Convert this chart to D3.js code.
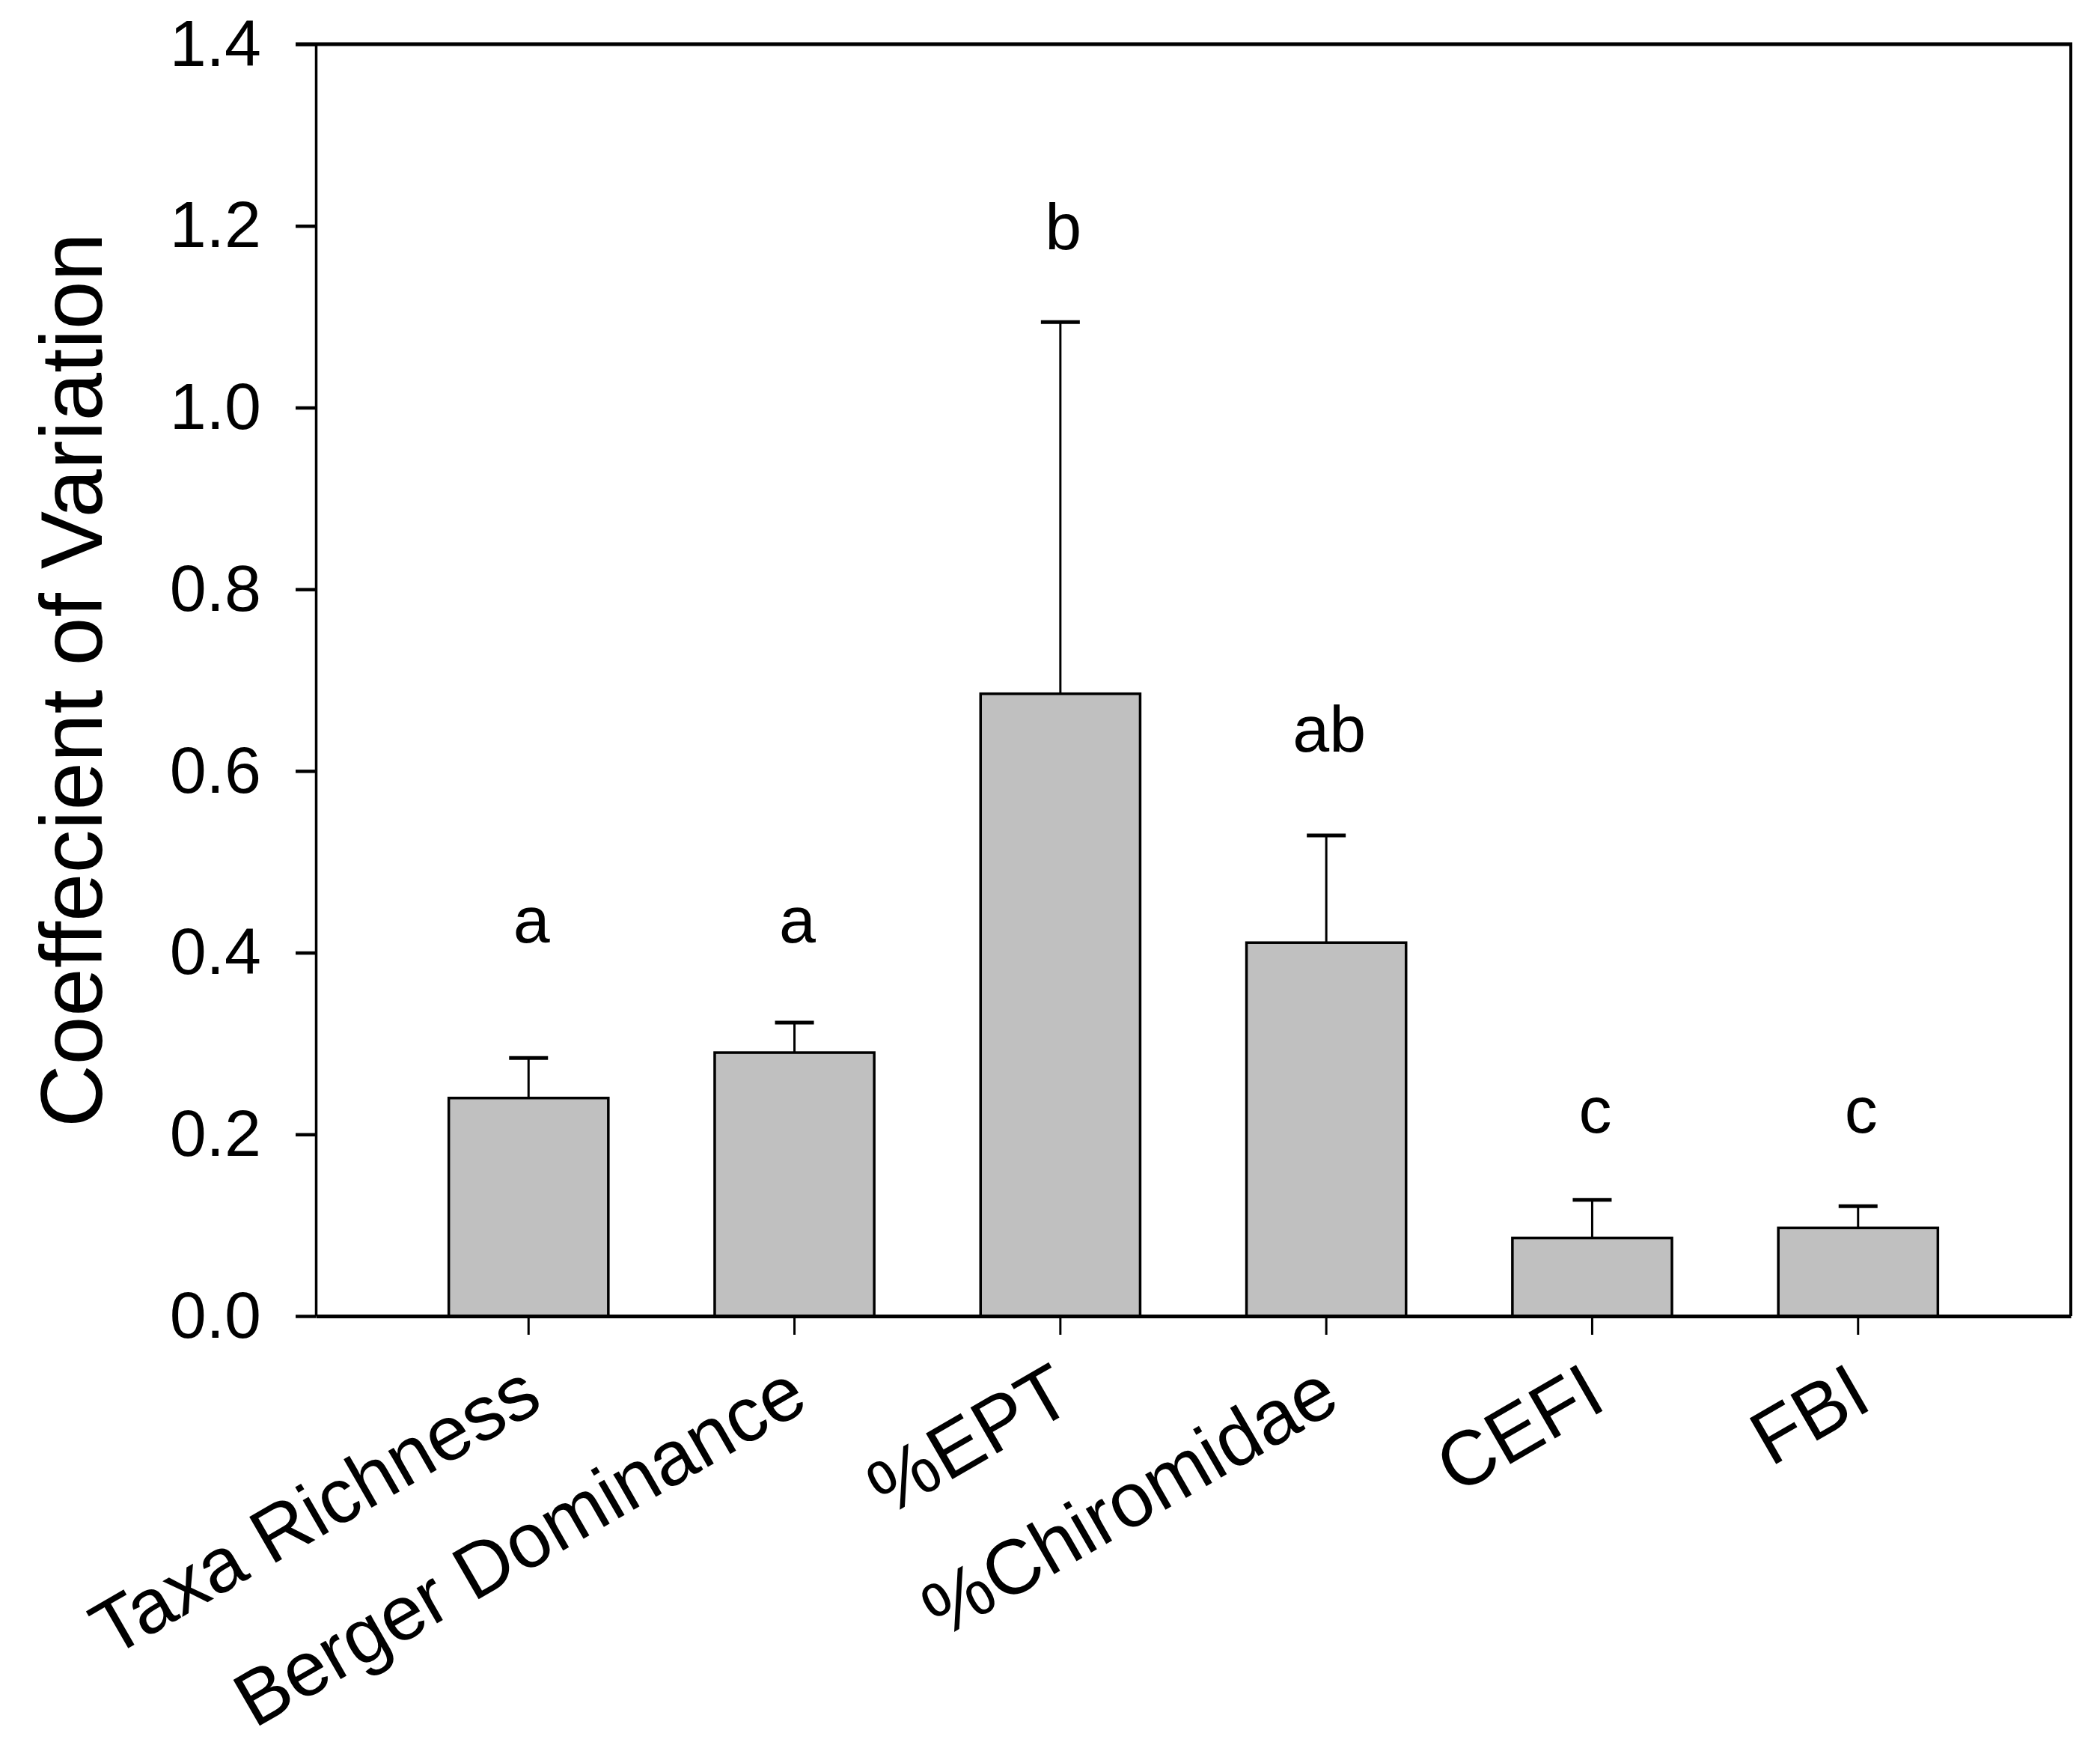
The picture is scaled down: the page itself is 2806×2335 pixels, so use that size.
<!DOCTYPE html>
<html>
<head>
<meta charset="utf-8">
<script src="https://cdn.jsdelivr.net/npm/d3@7"></script>
<style>
  body { margin: 0; background: #fff; }
  text { font-family: "Liberation Sans", Arial, sans-serif; fill: #000; }
</style>
</head>
<body>
<div id="chart"></div>
<script>
// values
let categories = ['Taxa Richness', 'Berger Dominance', '%EPT', '%Chiromidae', 'CEFI', 'FBI'];
let cvMeans = [0.240, 0.290, 0.685, 0.411, 0.086, 0.097];
let cvErrors = [0.044, 0.033, 0.409, 0.118, 0.042, 0.024];
let groupLetters = ['a', 'a', 'b', 'ab', 'c', 'c'];
let letterLevels = [0.411, 0.411, 1.174, 0.621, 0.202, 0.202];
let yTicks = [0, 0.2, 0.4, 0.6, 0.8, 1.0, 1.2, 1.4];

//svg size
let svgWidth = 2806;
let svgHeight = 2335;

let chartMargin = {
    top: 59,
    right: 39,
    bottom: 577,
    left: 422
};

let chartWidth = svgWidth - chartMargin.left - chartMargin.right;
let chartHeight = svgHeight - chartMargin.top - chartMargin.bottom;

let svg = d3.select('#chart')
            .append('svg')
            .attr('width', svgWidth)
            .attr('height', svgHeight);

let chartGroup = svg.append('g')
                    .attr('transform', `translate(${chartMargin.left}, ${chartMargin.top})`);

let data = categories.map((c, i) => ({
    name: c,
    mean: cvMeans[i],
    err: cvErrors[i],
    letter: groupLetters[i],
    level: letterLevels[i]
}));

//scales
let xScale = d3.scaleBand()
               .domain(categories)
               .range([0, chartWidth])
               .paddingInner(0.4)
               .paddingOuter(0.5);

let yScale = d3.scaleLinear()
               .domain([0, 1.4])
               .range([chartHeight, 0]);

//bars
chartGroup.selectAll('.bar')
          .data(data)
          .enter()
          .append('rect')
          .attr('class', 'bar')
          .attr('x', d => xScale(d.name))
          .attr('width', xScale.bandwidth())
          .attr('y', d => yScale(d.mean))
          .attr('height', d => yScale(0) - yScale(d.mean))
          .attr('fill', '#c0c0c0')
          .attr('stroke', '#000')
          .attr('stroke-width', 3.5);

//error bars (upper only)
let capHalf = 26;
chartGroup.selectAll('.errLine')
          .data(data)
          .enter()
          .append('line')
          .attr('x1', d => xScale(d.name) + xScale.bandwidth() / 2)
          .attr('x2', d => xScale(d.name) + xScale.bandwidth() / 2)
          .attr('y1', d => yScale(d.mean))
          .attr('y2', d => yScale(d.mean + d.err))
          .attr('stroke', '#000')
          .attr('stroke-width', 3);

chartGroup.selectAll('.errCap')
          .data(data)
          .enter()
          .append('line')
          .attr('x1', d => xScale(d.name) + xScale.bandwidth() / 2 - capHalf)
          .attr('x2', d => xScale(d.name) + xScale.bandwidth() / 2 + capHalf)
          .attr('y1', d => yScale(d.mean + d.err))
          .attr('y2', d => yScale(d.mean + d.err))
          .attr('stroke', '#000')
          .attr('stroke-width', 5);

//significance letters
chartGroup.selectAll('.letter')
          .data(data)
          .enter()
          .append('text')
          .attr('x', d => xScale(d.name) + xScale.bandwidth() / 2 + 4)
          .attr('y', d => yScale(d.level))
          .attr('text-anchor', 'middle')
          .attr('font-size', 88)
          .text(d => d.letter);

//axes
let yAxis = d3.axisLeft(yScale)
              .tickValues(yTicks)
              .tickFormat(d3.format('.1f'))
              .tickSize(27)
              .tickSizeOuter(0)
              .tickPadding(46);

let yAxisGroup = chartGroup.append('g').call(yAxis);
yAxisGroup.select('.domain').attr('stroke-width', 3.5);
yAxisGroup.selectAll('.tick line').attr('stroke-width', 4.5);
yAxisGroup.selectAll('.tick text')
          .attr('font-size', 88)
          .attr('font-family', '"Liberation Sans", Arial, sans-serif');

let xAxis = d3.axisBottom(xScale)
              .tickSize(25)
              .tickSizeOuter(0);

let xAxisGroup = chartGroup.append('g')
                           .attr('transform', `translate(0, ${chartHeight})`)
                           .call(xAxis);
xAxisGroup.select('.domain').attr('stroke-width', 5);
xAxisGroup.selectAll('.tick line').attr('stroke-width', 3);
xAxisGroup.selectAll('.tick text')
          .attr('font-size', 103)
          .attr('font-family', '"Liberation Sans", Arial, sans-serif')
          .attr('text-anchor', 'end')
          .attr('x', 22)
          .attr('y', 122)
          .attr('dy', 0)
          .attr('transform', 'rotate(-30, 22, 122)');

//frame top and right
chartGroup.append('line')
          .attr('x1', -27)
          .attr('x2', chartWidth + 2)
          .attr('y1', 0)
          .attr('y2', 0)
          .attr('stroke', '#000')
          .attr('stroke-width', 5);
chartGroup.append('line')
          .attr('x1', chartWidth)
          .attr('x2', chartWidth)
          .attr('y1', 0)
          .attr('y2', chartHeight)
          .attr('stroke', '#000')
          .attr('stroke-width', 4);

//y axis title
chartGroup.append('text')
          .attr('transform', 'rotate(-90)')
          .attr('x', -chartHeight / 2)
          .attr('y', 136 - chartMargin.left)
          .attr('text-anchor', 'middle')
          .attr('font-size', 116)
          .text('Coeffecient of Variation');
</script>
</body>
</html>
